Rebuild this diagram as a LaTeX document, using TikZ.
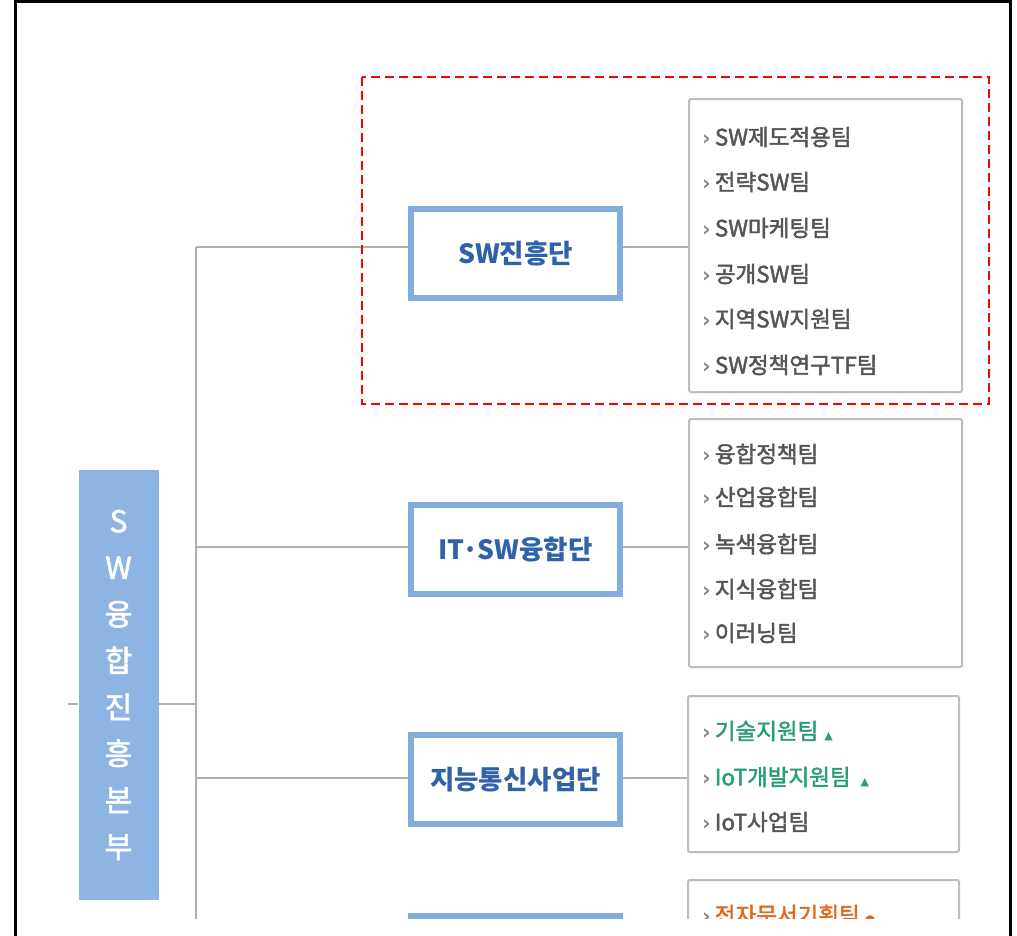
\documentclass[tikz,border=0pt]{standalone}
\usepackage{fontspec}
\newfontfamily\kr{Noto Sans CJK KR}
\newfontfamily\krm[FakeBold=2]{Noto Sans CJK KR}
\newfontfamily\sym{DejaVu Sans}
\definecolor{hqfill}{HTML}{8DB4E2}
\definecolor{danblue}{HTML}{84ACDC}
\definecolor{dantext}{HTML}{2F62A8}
\definecolor{conngrey}{HTML}{B0B0B0}
\definecolor{listborder}{HTML}{BDBDBD}
\definecolor{itemgrey}{HTML}{555555}
\definecolor{bulgrey}{HTML}{8A8A8A}
\definecolor{itemgreen}{HTML}{2A9D78}
\definecolor{itemorange}{HTML}{E2681E}
\newcommand{\bul}{{\sym\bfseries\fontsize{21}{21}\selectfont\color{bulgrey}›}\hspace{4pt}}
\tikzset{
  hq/.style={fill=hqfill, minimum width=80, minimum height=430, inner sep=0pt,
    text=white, align=center, font=\krm\fontsize{30}{46.5}\selectfont},
  conn/.style={draw=conngrey, line width=2pt},
  danbox/.style={draw=danblue, line width=6pt, fill=white, minimum width=209,
    minimum height=89, inner sep=0pt, text=dantext, font=\kr\bfseries\fontsize{26.5}{30}\selectfont},
  listbox/.style={draw=listborder, line width=2pt, fill=white, rounded corners=2pt,
    minimum width=273, inner sep=0pt},
  item/.style={anchor=west, inner sep=0pt, text=itemgrey, font=\krm\fontsize{22.5}{24}\selectfont},
  hlbox/.style={draw=red, line width=2pt, dash pattern=on 9pt off 5pt}
}
\begin{document}
\begin{tikzpicture}[x=1pt,y=-1pt]
\useasboundingbox (0,0) rectangle (1017,935);
\fill[white] (0,0) rectangle (1017,935);
\begin{scope}
\clip (17,3) rectangle (1009,918);
% trunk
\coordinate (tTop) at (196,247);
\coordinate (tBot) at (196,940);
\coordinate (t2) at (196,547);
\coordinate (t3) at (196,778);
\coordinate (tHQ) at (196,704);
\coordinate (hqL) at (68,704);
\draw[conn] (tTop) -- (tBot);
% head node
\node[hq] (hq) at (118.5,685) {S\\W\\융\\합\\진\\흥\\본\\부};
\draw[conn] (hqL) -- (hqL -| hq.west);
\draw[conn] (hq.east |- tHQ) -- (tHQ);
% dan boxes
\node[danbox] (d1) at (515.5,253.5) {SW진흥단};
\node[danbox] (d2) at (515.5,549.5) {IT·SW융합단};
\node[danbox] (d3) at (515.5,779.5) {지능통신사업단};
\node[danbox] (d4) at (515.5,960.5) {};
% list boxes
\node[listbox, minimum height=293] (l1) at (825.5,245.5) {};
\node[listbox, minimum height=248] (l2) at (825.5,543) {};
\node[listbox, minimum width=271, minimum height=156] (l3) at (823.5,774) {};
\node[listbox, minimum width=271, minimum height=150] (l4) at (823.5,955) {};
% connectors
\draw[conn] (tTop) -- (tTop -| d1.west);
\draw[conn] (t2) -- (t2 -| d2.west);
\draw[conn] (t3) -- (t3 -| d3.west);
\draw[conn] (d1.east |- tTop) -- (tTop -| l1.west);
\draw[conn] (d2.east |- t2) -- (t2 -| l2.west);
\draw[conn] (d3.east |- t3) -- (t3 -| l3.west);
% items box 1
\node[item] (a1) at (702,137) {\bul SW제도적용팀};
\node[item] (a2) at (702,182) {\bul 전략SW팀};
\node[item] (a3) at (702,228) {\bul SW마케팅팀};
\node[item] (a4) at (702,274) {\bul 공개SW팀};
\node[item] (a5) at (702,319) {\bul 지역SW지원팀};
\node[item] (a6) at (702,365) {\bul SW정책연구TF팀};
% items box 2
\node[item] (b1) at (702,454) {\bul 융합정책팀};
\node[item] (b2) at (702,497) {\bul 산업융합팀};
\node[item] (b3) at (702,544) {\bul 녹색융합팀};
\node[item] (b4) at (702,589) {\bul 지식융합팀};
\node[item] (b5) at (702,633) {\bul 이러닝팀};
% items box 3
\node[item, text=itemgreen] (c1) at (702,731) {\bul 기술지원팀\hspace{6pt}{\sym\fontsize{11}{11}\selectfont ▲}};
\node[item, text=itemgreen] (c2) at (702,777) {\bul IoT개발지원팀\hspace{10pt}{\sym\fontsize{11}{11}\selectfont ▲}};
\node[item] (c3) at (702,822) {\bul IoT사업팀};
% items box 4
\node[item, text=itemorange] (e1) at (702,915) {\bul 전자문서기획팀\hspace{5pt}{\sym\fontsize{12}{12}\selectfont ●}};
\end{scope}
% highlight
\draw[hlbox] (362,77) rectangle (989,404);
% outer frame
\draw[line width=3pt] (15.5,940) -- (15.5,1.5) -- (1010,1.5) -- (1010,940);
\end{tikzpicture}
\end{document}
